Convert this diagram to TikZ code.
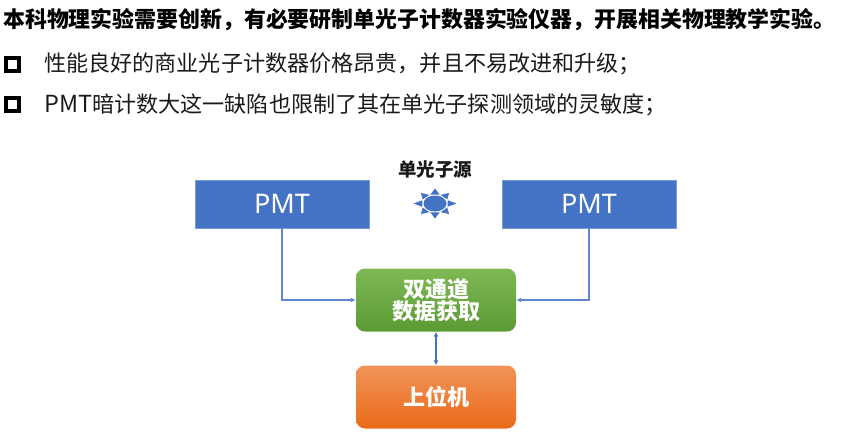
\documentclass[tikz,border=0pt]{standalone}
\usepackage{fontspec}
\setmainfont{Noto Sans CJK SC}
\newfontfamily\latinfont{Noto Sans}
\usetikzlibrary{arrows.meta,calc}
\definecolor{pmtblue}{HTML}{4472C4}
\definecolor{inkblack}{HTML}{1A1A1A}
\definecolor{greenT}{HTML}{7FB955}
\definecolor{greenB}{HTML}{5A9A33}
\definecolor{orangeT}{HTML}{F19359}
\definecolor{orangeB}{HTML}{EA6B18}
\tikzset{
  x=1pt,y=-1pt,
  linetext/.style={anchor=west,inner sep=0pt,font=\fontsize{22.1}{22}\selectfont,text=inkblack},
  titletext/.style={anchor=west,inner sep=0pt,font=\fontsize{21.9}{22}\selectfont\bfseries,text=black},
  bulletbox/.style={draw=black,line width=3.4pt,minimum width=13pt,minimum height=13pt,inner sep=0pt,outer sep=0pt},
  pmtbox/.style={fill=pmtblue,draw=pmtblue!70!white,line width=0.6pt,minimum width=174pt,minimum height=48pt,inner sep=0pt,text=white,font=\latinfont\fontsize{27}{27}\selectfont},
  greenbox/.style={rounded corners=9pt,top color=greenT,bottom color=greenB,minimum width=160pt,minimum height=63pt,inner sep=0pt,text=white,align=center,font=\fontsize{22}{21}\selectfont\bfseries},
  orangebox/.style={rounded corners=9pt,top color=orangeT,bottom color=orangeB,minimum width=160pt,minimum height=63pt,inner sep=0pt,text=white,font=\fontsize{22}{23}\selectfont\bfseries},
  link/.style={draw=pmtblue!85!white,line width=1.1pt,-{Latex[length=5pt,width=5pt]}},
  duallink/.style={draw=pmtblue,line width=1.6pt,{Latex[length=5pt,width=5pt]}-{Latex[length=5pt,width=5pt]}},
  sunray/.style={fill=pmtblue,draw=none}
}
\begin{document}
\begin{tikzpicture}
\useasboundingbox (0,0) rectangle (845,440);
\node[titletext] (title) at (3,20) {本科物理实验需要创新，有必要研制单光子计数器实验仪器，开展相关物理教学实验。};
\node[bulletbox] (b1) at (12.5,64.5) {};
\node[linetext] (t1) at (44,64) {性能良好的商业光子计数器价格昂贵，并且不易改进和升级；};
\node[bulletbox] (b2) at (12.5,104.5) {};
\node[linetext] (t2) at (44,105) {{\fontsize{23.5}{22}\selectfont PMT}暗计数大这一缺陷也限制了其在单光子探测领域的灵敏度；};
\node[pmtbox] (pmtL) at (282,204) {PMT};
\node[pmtbox] (pmtR) at (589,204) {PMT};
\node[inner sep=0pt,font=\fontsize{18.5}{19}\selectfont\bfseries,text=inkblack] (src) at (435,169) {单光子源};
\node[greenbox] (daq) at (436,300) {双通道\\数据获取};
\node[orangebox] (pc) at (436,397) {上位机};
\draw[link] (pmtL.south) |- (daq.west);
\draw[link] (pmtR.south) |- (daq.east);
\draw[duallink] (daq.south) -- (pc.north);
% light source
\foreach \a/\rx/\ry in {0/21.5/15,45/20/15,90/21.5/15,135/20/15,180/21.5/15,225/20/15,270/21.5/15,315/20/15}{
  \fill[sunray] ({435+\rx*cos(\a)},{203.5+\ry*sin(\a)}) -- ({435+13.5*cos(\a+20)},{203.5+9.5*sin(\a+20)}) -- ({435+13.5*cos(\a-20)},{203.5+9.5*sin(\a-20)}) -- cycle;
}
\fill[pmtblue] (435,203.5) ellipse [x radius=11.5,y radius=8];
\end{tikzpicture}
\end{document}
